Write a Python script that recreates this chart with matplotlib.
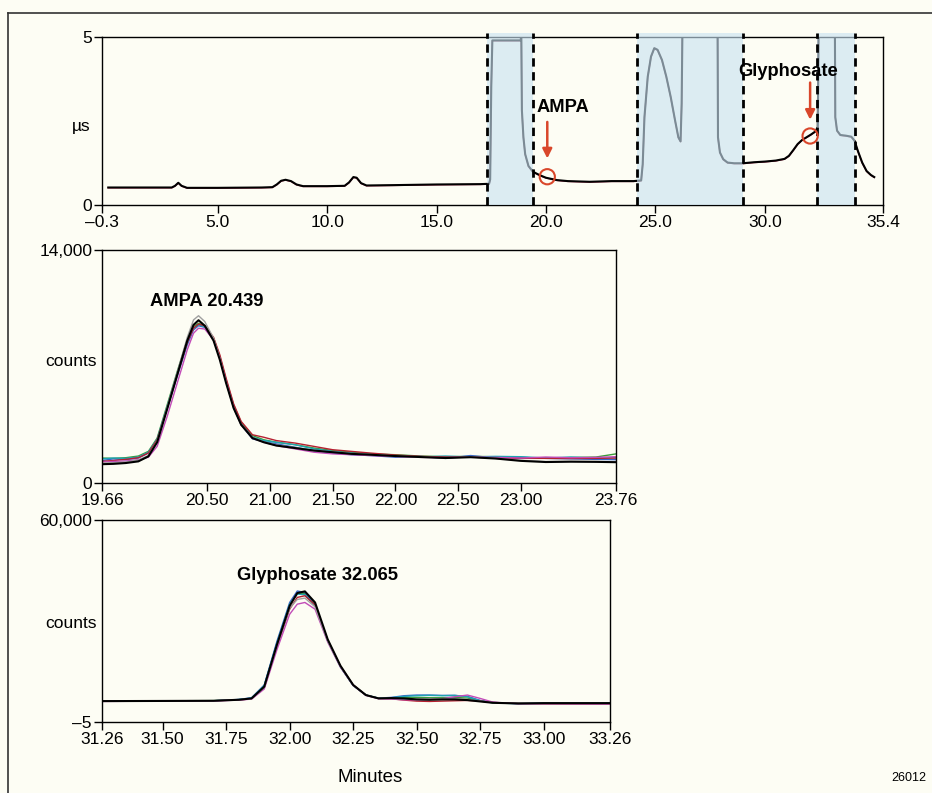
import matplotlib.pyplot as plt
from matplotlib.lines import Line2D

plt.rcParams['font.family'] = ['Liberation Sans', 'DejaVu Sans']

# full conductivity trace (minutes, µS)
top_x = [0.0, 2.9, 3.05, 3.2, 3.35, 3.6, 5.0, 7.0, 7.5, 7.7, 7.9, 8.1, 8.35, 8.6, 8.9, 10.0,
         10.8, 11.0, 11.2, 11.35, 11.55, 11.8, 13.0, 15.0, 17.0, 17.4, 17.45, 17.5, 17.55,
         18.85, 18.87, 18.9, 18.97, 19.05, 19.2, 19.4, 19.7, 20.0, 20.5, 21.0, 22.0, 23.0,
         24.0, 24.35, 24.42, 24.5, 24.65, 24.8, 24.95, 25.1, 25.3, 25.5, 25.7, 25.9, 26.05,
         26.15, 26.2, 26.24, 27.84, 27.86, 27.95, 28.1, 28.3, 28.6, 29.0, 29.5, 30.0, 30.5,
         30.9, 31.1, 31.3, 31.5, 31.7, 31.9, 32.1, 32.3, 32.42, 32.46, 33.2, 33.22, 33.3,
         33.45, 33.7, 33.95, 34.1, 34.25, 34.45, 34.65, 34.85, 35.0]
top_y = [0.51, 0.51, 0.56, 0.65, 0.56, 0.5, 0.5, 0.51, 0.52, 0.6, 0.71, 0.74, 0.7, 0.6, 0.55, 0.55,
         0.56, 0.66, 0.82, 0.8, 0.64, 0.57, 0.58, 0.6, 0.61, 0.62, 0.75, 3.5, 4.88,
         4.88, 5.3, 2.8, 2.0, 1.5, 1.15, 0.98, 0.88, 0.8, 0.73, 0.7, 0.68, 0.7,
         0.7, 0.72, 1.2, 2.6, 3.8, 4.4, 4.65, 4.6, 4.3, 3.8, 3.2, 2.5, 2.0,
         1.88, 3.0, 5.5, 5.5, 2.0, 1.55, 1.35, 1.25, 1.23, 1.23, 1.26, 1.28, 1.31,
         1.36, 1.45, 1.62, 1.8, 1.92, 2.0, 2.08, 2.17, 2.3, 5.5, 5.5, 2.6, 2.2,
         2.07, 2.05, 2.02, 1.9, 1.6, 1.25, 1.0, 0.88, 0.82]
windows = [(17.3, 19.4), (24.15, 29.0), (32.4, 34.1)]

# AMPA replicates (counts)
ampa_x = [19.66, 19.75, 19.85, 19.95, 20.03, 20.1, 20.18, 20.26, 20.34, 20.39, 20.43, 20.48,
          20.55, 20.6, 20.65, 20.71, 20.77, 20.86, 20.95, 21.05, 21.2, 21.35, 21.5, 21.65, 21.8,
          22.0, 22.2, 22.4, 22.6, 22.8, 23.0, 23.2, 23.4, 23.6, 23.76]
ampa_green = [1500, 1480, 1520, 1620, 1900, 2700, 4700, 6700, 8600, 9400, 9600, 9450, 8700, 7600,
              6200, 4700, 3650, 2850, 2600, 2450, 2300, 2100, 1950, 1850, 1750, 1700, 1620, 1580,
              1600, 1580, 1520, 1500, 1530, 1560, 1750]
ampa_blue = [1350, 1450, 1400, 1500, 1800, 2550, 4450, 6400, 8300, 9200, 9450, 9350, 8600, 7500,
             6100, 4550, 3500, 2650, 2500, 2350, 2150, 1950, 1800, 1700, 1650, 1550, 1600, 1480,
             1650, 1500, 1550, 1480, 1450, 1420, 1400]
ampa_cyan = [1450, 1500, 1480, 1560, 1850, 2650, 4600, 6600, 8500, 9300, 9500, 9400, 8650, 7500,
             6100, 4600, 3550, 2750, 2550, 2450, 2300, 2050, 1900, 1800, 1720, 1640, 1560, 1620,
             1560, 1600, 1580, 1500, 1560, 1500, 1520]
ampa_red = [1300, 1350, 1420, 1520, 1800, 2600, 4500, 6500, 8450, 9300, 9550, 9450, 8750, 7700,
            6300, 4750, 3700, 2900, 2750, 2550, 2400, 2200, 2000, 1900, 1800, 1680, 1600, 1560,
            1560, 1500, 1480, 1480, 1470, 1480, 1500]
ampa_magenta = [1250, 1300, 1320, 1400, 1550, 2200, 4000, 6000, 8000, 9000, 9300, 9250, 8600, 7500,
                6100, 4550, 3500, 2700, 2450, 2250, 2050, 1850, 1750, 1700, 1650, 1600, 1540, 1520,
                1560, 1540, 1500, 1560, 1520, 1540, 1580]
ampa_grey = [1200, 1220, 1260, 1380, 1650, 2500, 4550, 6650, 8750, 9800, 10050, 9700, 8700, 7500,
             6050, 4500, 3500, 2720, 2470, 2280, 2120, 1970, 1860, 1770, 1710, 1630, 1570, 1510,
             1560, 1480, 1360, 1290, 1300, 1290, 1270]
ampa_black = [1130, 1150, 1200, 1300, 1600, 2450, 4450, 6500, 8550, 9500, 9780, 9450, 8550, 7400,
              6000, 4500, 3500, 2700, 2450, 2250, 2100, 1950, 1850, 1750, 1700, 1620, 1560, 1500,
              1550, 1470, 1330, 1260, 1280, 1270, 1250]

# Glyphosate replicates (counts)
gly_x = [31.26, 31.5, 31.7, 31.8, 31.85, 31.9, 31.95, 32.0, 32.03, 32.06, 32.1, 32.15, 32.2, 32.25,
         32.3, 32.35, 32.4, 32.45, 32.5, 32.55, 32.6, 32.65, 32.7, 32.75, 32.8, 32.9, 33.0, 33.26]
gly_blue = [6200, 6250, 6300, 6700, 7200, 11000, 24000, 35500, 38900, 38500, 34500, 24000, 16300,
            10800, 8000, 7100, 7300, 7800, 8000, 8000, 7900, 7900, 7600, 6400, 5800, 5500, 5600, 5600]
gly_cyan = [6200, 6250, 6300, 6650, 7100, 10800, 23500, 35000, 38000, 37800, 34600, 24000, 16400,
            10900, 8000, 7050, 7200, 7600, 7800, 7900, 7800, 7900, 7500, 6300, 5700, 5400, 5500, 5500]
gly_red = [6200, 6250, 6300, 6550, 6900, 10200, 22500, 33500, 37000, 37500, 34800, 24300, 16600,
           11000, 8000, 7000, 6900, 6500, 6200, 6100, 6200, 6300, 6400, 6200, 5800, 5500, 5400, 5300]
gly_magenta = [6100, 6200, 6250, 6500, 6800, 9800, 21500, 32000, 35000, 35500, 33500, 23700, 16300,
               10900, 7900, 6900, 6800, 6600, 6600, 6700, 6900, 7500, 8000, 7000, 5900, 5400, 5400, 5300]
gly_grey = [6200, 6250, 6300, 6600, 6950, 10300, 22800, 33800, 36400, 36800, 34200, 24000, 16500,
            10900, 8000, 7000, 7000, 6900, 6800, 6800, 6900, 6900, 6700, 6200, 5700, 5500, 5500, 5500]
gly_green = [6250, 6300, 6350, 6650, 7050, 10600, 23300, 34800, 38100, 38200, 35000, 24200, 16500,
             10900, 8000, 7050, 7150, 7300, 7300, 7200, 7200, 7300, 7100, 6300, 5700, 5500, 5500, 5500]
gly_black = [6200, 6250, 6300, 6600, 7000, 10500, 23000, 34500, 38300, 38800, 35500, 24500, 16700,
             11000, 8000, 7000, 7100, 7000, 6700, 6600, 6700, 6700, 6500, 6100, 5700, 5500, 5600, 5600]

bg = '#fdfdf4'
red = '#d9472b'
font_tick = 12.5
font_bold = 13.2

fig = plt.figure(figsize=(9.32, 7.93), dpi=100, facecolor=bg)
# frame around the figure (left and top edges visible)
fig.add_artist(Line2D([8 / 932, 8 / 932], [0, 1 - 13 / 793], color='#333333', lw=1.2))
fig.add_artist(Line2D([8 / 932, 1], [1 - 13 / 793, 1 - 13 / 793], color='#333333', lw=1.2))


def style(ax):
    ax.set_facecolor(bg)
    for s in ax.spines.values():
        s.set_linewidth(1.0)
    ax.tick_params(direction='out', length=6, width=1, labelsize=font_tick, pad=1)


# top panel
ax1 = fig.add_axes([101.7 / 932, 1 - 205 / 793, 781.3 / 932, 168.3 / 793])
style(ax1)
ax1.plot(top_x, top_y, color='#c0305a', lw=1.0, zorder=2)
ax1.plot(top_x, [v + 0.01 for v in top_y], color='black', lw=1.5, zorder=2)
for a, b in windows:
    ax1.axvspan(a, b, ymin=0, ymax=1.02, facecolor='#c8e2f2', alpha=0.62, zorder=3, clip_on=False)
    for xv in (a, b):
        ax1.plot([xv, xv], [0, 5.1], color='black', lw=2, ls=(0, (3, 2)), zorder=4, clip_on=False)
ax1.set_xlim(-0.3, 35.4)
ax1.set_ylim(0, 5)
ax1.set_xticks([-0.3, 5, 10, 15, 20, 25, 30, 35.4])
ax1.set_xticklabels(['\u20130.3', '5.0', '10.0', '15.0', '20.0', '25.0', '30.0', '35.4'])
ax1.set_yticks([0, 5])
ax1.set_yticklabels(['0', '5'])
ax1.text(-0.014, 0.465, 'µs', transform=ax1.transAxes, ha='right', va='center', fontsize=font_tick)
ax1.scatter([20.06, 32.07], [0.84, 2.05], s=120, facecolors='none', edgecolors=red, lw=1.5, zorder=5)
ax1.annotate('', xy=(20.06, 1.3), xytext=(20.06, 2.55),
             arrowprops=dict(arrowstyle='-|>', color=red, lw=1.8, mutation_scale=14), zorder=5)
ax1.annotate('', xy=(32.07, 2.45), xytext=(32.07, 3.72),
             arrowprops=dict(arrowstyle='-|>', color=red, lw=1.8, mutation_scale=14), zorder=5)
ax1.text(19.58, 2.9, 'AMPA', fontsize=font_bold, fontweight='bold', ha='left', va='center', zorder=6)
ax1.text(31.07, 3.96, 'Glyphosate', fontsize=font_bold, fontweight='bold', ha='center', va='center',
         zorder=6)

# AMPA panel
ax2 = fig.add_axes([102 / 932, 1 - 483 / 793, 514 / 932, 233 / 793])
style(ax2)
for ys, c in [(ampa_green, '#3a9a3a'), (ampa_blue, '#3a66c4'), (ampa_cyan, '#1fa3b3'),
              (ampa_red, '#b52030'), (ampa_magenta, '#c24cb8'), (ampa_grey, '#a0a0a0')]:
    ax2.plot(ampa_x, ys, color=c, lw=1.0)
ax2.plot(ampa_x, ampa_black, color='black', lw=1.5)
ax2.set_xlim(19.66, 23.76)
ax2.set_ylim(0, 14000)
ax2.set_xticks([19.66, 20.5, 21.0, 21.5, 22.0, 22.5, 23.0, 23.76])
ax2.set_xticklabels(['19.66', '20.50', '21.00', '21.50', '22.00', '22.50', '23.00', '23.76'])
ax2.set_yticks([0, 14000])
ax2.set_yticklabels(['0', '14,000'])
ax2.text(-0.01, 0.52, 'counts', transform=ax2.transAxes, ha='right', va='center', fontsize=font_tick)
ax2.text(0.204, 0.778, 'AMPA 20.439', transform=ax2.transAxes, ha='center', va='center',
         fontsize=font_bold, fontweight='bold')

# Glyphosate panel
ax3 = fig.add_axes([101.7 / 932, 1 - 722 / 793, 508 / 932, 202 / 793])
style(ax3)
for ys, c in [(gly_green, '#3a9a3a'), (gly_blue, '#3a66c4'), (gly_cyan, '#1fa3b3'),
              (gly_red, '#b52030'), (gly_magenta, '#c24cb8'), (gly_grey, '#a0a0a0')]:
    ax3.plot(gly_x, ys, color=c, lw=1.0)
ax3.plot(gly_x, gly_black, color='black', lw=1.5)
ax3.set_xlim(31.26, 33.26)
ax3.set_ylim(-5, 60000)
ax3.set_xticks([31.26, 31.5, 31.75, 32.0, 32.25, 32.5, 32.75, 33.0, 33.26])
ax3.set_xticklabels(['31.26', '31.50', '31.75', '32.00', '32.25', '32.50', '32.75', '33.00', '33.26'])
ax3.set_yticks([-5, 60000])
ax3.set_yticklabels(['\u20135', '60,000'])
ax3.text(-0.01, 0.49, 'counts', transform=ax3.transAxes, ha='right', va='center', fontsize=font_tick)
ax3.text(0.424, 0.727, 'Glyphosate 32.065', transform=ax3.transAxes, ha='center', va='center',
         fontsize=font_bold, fontweight='bold')

fig.text(370 / 932, 1 - 778 / 793, 'Minutes', ha='center', va='center', fontsize=13.5)
fig.text(926 / 932, 1 - 778 / 793, '26012', ha='right', va='center', fontsize=9)

fig.savefig('out.png', dpi=100, facecolor=bg)
